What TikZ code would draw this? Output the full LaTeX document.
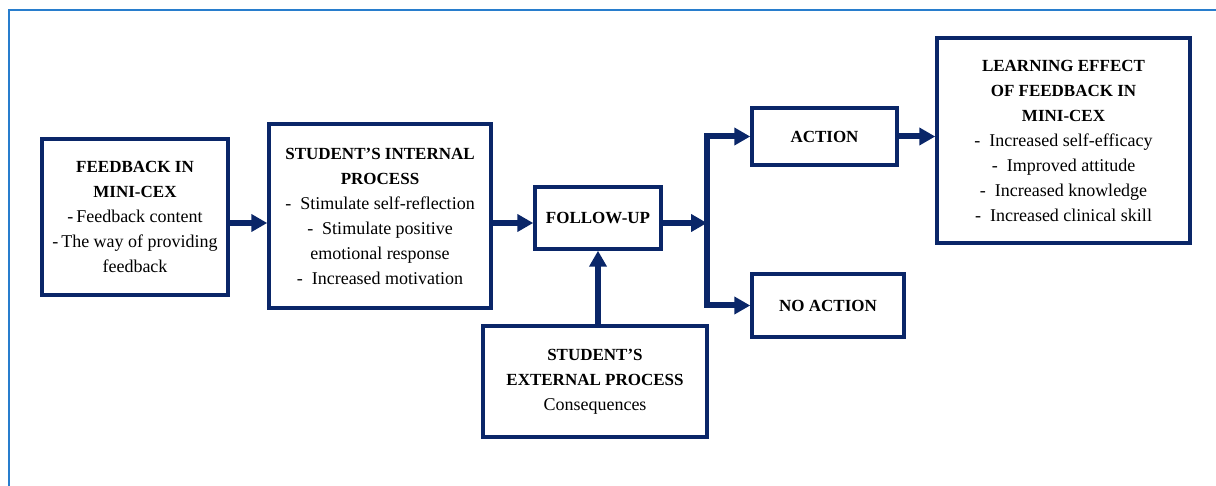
\documentclass[tikz,border=0pt]{standalone}
\usepackage{fontspec}
\setmainfont{Liberation Serif}
\usetikzlibrary{arrows.meta}
\definecolor{navy}{RGB}{10,38,104}
\definecolor{framebl}{RGB}{40,125,205}
\newcommand{\ttl}[1]{{\fontsize{17}{25}\selectfont\bfseries #1}}
\tikzset{
  box/.style={draw=navy, line width=3.5pt, fill=white, align=center, inner sep=0pt,
    font=\fontsize{18}{25}\selectfont, text=black},
  arr/.style={draw=navy, line width=6pt,
    -{Triangle[length=16pt,width=17pt]}},
}
\begin{document}
\begin{tikzpicture}[x=1pt,y=-1pt]
\useasboundingbox (0,0) rectangle (1216,486);
\draw[framebl, line width=1.4pt] (9,486) -- (9,10) -- (1216,10);

\node[box, minimum width=186pt, minimum height=156pt] (fb) at (135,217)
  {\ttl{FEEDBACK IN}\\ \ttl{MINI-CEX}\\ -\,Feedback content\\ -\,The way of providing\\ feedback};
\node[box, minimum width=222pt, minimum height=184pt] (int) at (380,216)
  {\ttl{STUDENT’S INTERNAL}\\ \ttl{PROCESS}\\ -~~Stimulate self-reflection\\ -~~Stimulate positive\\ emotional response\\ -~~Increased motivation};
\node[box, minimum width=126pt, minimum height=62pt] (fu) at (598,218)
  {\ttl{FOLLOW-UP}};
\node[box, minimum width=224pt, minimum height=111pt] (ext) at (595,381.5)
  {\ttl{STUDENT’S}\\ \ttl{EXTERNAL PROCESS}\\ Consequences};
\node[box, minimum width=145pt, minimum height=57pt] (act) at (824.5,136.5)
  {\ttl{ACTION}};
\node[box, minimum width=152pt, minimum height=63pt] (na) at (828,305.5)
  {\ttl{NO ACTION}};
\node[box, minimum width=253pt, minimum height=205pt] (le) at (1063.5,140.5)
  {\ttl{LEARNING EFFECT}\\ \ttl{OF FEEDBACK IN}\\ \ttl{MINI-CEX}\\ -~~Increased self-efficacy\\ -~~Improved attitude\\ -~~Increased knowledge\\ -~~Increased clinical skill};

\coordinate (j) at (707,223);
\draw[arr] (fb.east |- j) -- (int.west |- j);
\draw[arr] (int.east |- j) -- (fu.west |- j);
\draw[arr] (fu.east |- j) -- (j);
\draw[arr] (j) |- (act.west);
\draw[arr] (j) |- (na.west);
\draw[arr] (act.east) -- (act.east -| le.west);
\draw[arr] (ext.north -| fu.south) -- (fu.south);
\end{tikzpicture}
\end{document}
